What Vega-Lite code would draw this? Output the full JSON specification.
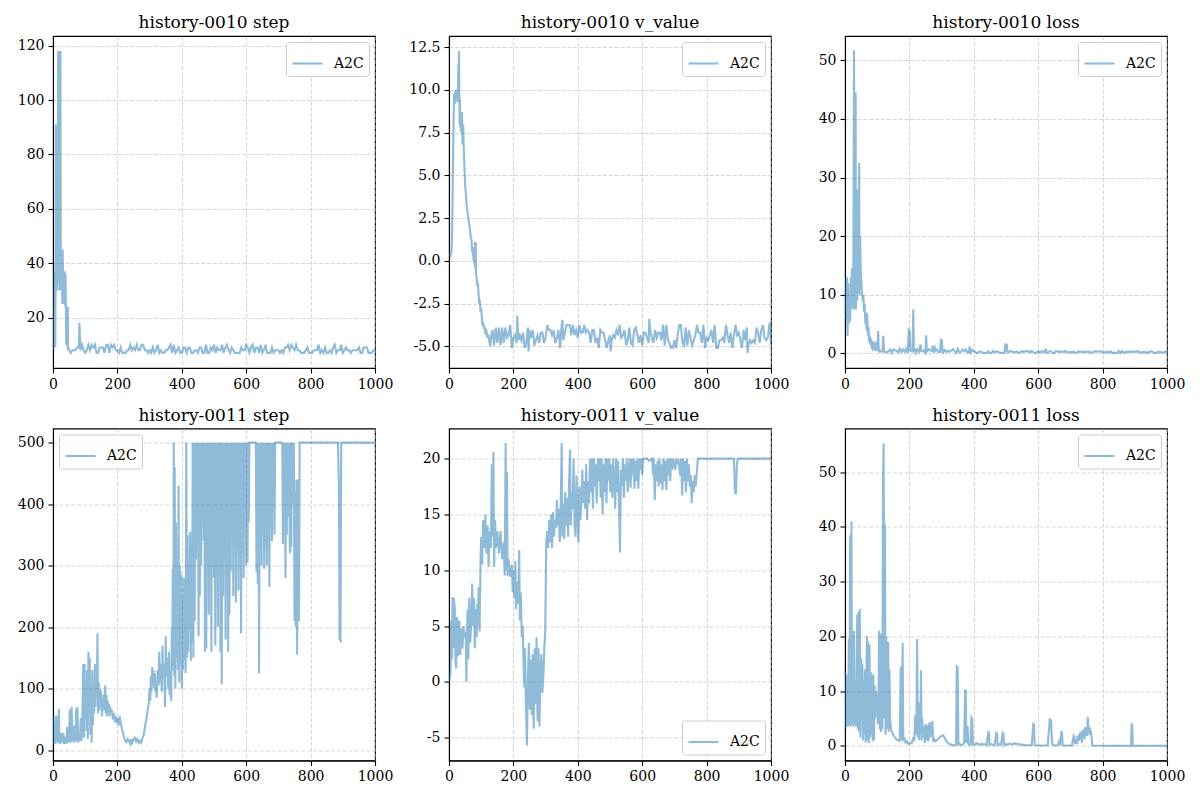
{
"$schema": "https://vega.github.io/schema/vega-lite/v6.json",
"padding": {"left": 10, "top": 13, "right": 5, "bottom": 5},
"columns": 3,
"bounds": "flush",
"spacing": {"row": 60.5, "column": 74},
"config": {
 "font": "DejaVu Serif",
 "view": {"stroke": "black", "strokeWidth": 1.1},
 "axis": {"title": null, "domainColor": "black", "domainWidth": 1.1, "tickColor": "black", "tickWidth": 1.1, "tickSize": 5, "labelPadding": 4, "labelFont": "DejaVu Serif", "labelFontSize": 14, "labelColor": "black", "grid": true, "gridColor": "#b0b0b0", "gridOpacity": 0.5, "gridDash": [4.1, 1.8], "gridWidth": 1.1, "labelFlush": false, "labelOverlap": false, "labelExpr": "replace(datum.label, '\u2212', '-')"},
 "axisY": {"minExtent": 42},
 "axisX": {"minExtent": 24, "format": "d"},
 "title": {"font": "DejaVu Serif", "fontSize": 17, "fontWeight": "normal", "color": "black", "offset": 4},
 "legend": {"title": null, "labelFont": "DejaVu Serif", "labelFontSize": 14, "labelColor": "black", "symbolType": "stroke", "symbolSize": 900, "symbolStrokeWidth": 2.1, "symbolOpacity": 0.5, "labelOffset": 10, "padding": 5, "cornerRadius": 3, "strokeColor": "#cccccc", "fillColor": "rgba(255,255,255,0.8)", "offset": 6}
},
"datasets": {
"a": [{"x":0,"y":10},{"x":1,"y":8},{"x":2,"y":23},{"x":3,"y":9},{"x":4,"y":18},{"x":5,"y":37},{"x":6,"y":12},{"x":7,"y":9},{"x":8,"y":37},{"x":9,"y":91},{"x":10,"y":35},{"x":11,"y":91},{"x":12,"y":40},{"x":13,"y":91},{"x":14,"y":30},{"x":15,"y":35},{"x":16,"y":118},{"x":17,"y":40},{"x":18,"y":118},{"x":19,"y":34},{"x":20,"y":118},{"x":21,"y":45},{"x":22,"y":30},{"x":23,"y":118},{"x":24,"y":50},{"x":25,"y":35},{"x":26,"y":45},{"x":27,"y":30},{"x":28,"y":45},{"x":29,"y":25},{"x":30,"y":45},{"x":31,"y":37},{"x":32,"y":26},{"x":33,"y":37},{"x":34,"y":35},{"x":35,"y":25},{"x":36,"y":37},{"x":37,"y":35},{"x":38,"y":24},{"x":39,"y":36},{"x":40,"y":24},{"x":41,"y":10},{"x":42,"y":24},{"x":43,"y":20},{"x":44,"y":24},{"x":45,"y":9},{"x":46,"y":24},{"x":47,"y":8},{"x":48,"y":9},
{"x":50,"y":8},{"x":55,"y":7},{"x":60,"y":8},{"x":65,"y":8},{"x":70,"y":8},{"x":75,"y":9},{"x":80,"y":9},{"x":82,"y":18},{"x":85,"y":8},{"x":90,"y":10},{"x":95,"y":8},
{"x":100,"y":7},{"x":105,"y":8},{"x":110,"y":10},{"x":115,"y":8},{"x":120,"y":10},{"x":125,"y":9},{"x":130,"y":10},{"x":135,"y":7},{"x":140,"y":7},{"x":145,"y":9},
{"x":150,"y":9},{"x":155,"y":9},{"x":160,"y":7},{"x":165,"y":10},{"x":170,"y":10},{"x":175,"y":7},{"x":180,"y":10},{"x":185,"y":9},{"x":190,"y":10},{"x":195,"y":8},
{"x":200,"y":8},{"x":205,"y":7},{"x":210,"y":9},{"x":215,"y":7},{"x":220,"y":7},{"x":225,"y":7},{"x":230,"y":8},{"x":235,"y":8},{"x":240,"y":10},{"x":245,"y":8},
{"x":250,"y":9},{"x":255,"y":8},{"x":260,"y":10},{"x":265,"y":8},{"x":270,"y":8},{"x":275,"y":10},{"x":280,"y":10},{"x":285,"y":8},{"x":290,"y":8},{"x":295,"y":7},
{"x":300,"y":8},{"x":305,"y":7},{"x":310,"y":9},{"x":315,"y":7},{"x":320,"y":8},{"x":325,"y":10},{"x":330,"y":7},{"x":335,"y":8},{"x":340,"y":7},{"x":345,"y":7},
{"x":350,"y":8},{"x":355,"y":8},{"x":360,"y":9},{"x":365,"y":10},{"x":370,"y":7},{"x":375,"y":10},{"x":380,"y":7},{"x":385,"y":8},{"x":390,"y":9},{"x":395,"y":7},
{"x":400,"y":7},{"x":405,"y":9},{"x":410,"y":9},{"x":415,"y":7},{"x":420,"y":9},{"x":425,"y":9},{"x":430,"y":7},{"x":435,"y":7},{"x":440,"y":8},{"x":445,"y":8},
{"x":450,"y":7},{"x":455,"y":9},{"x":460,"y":9},{"x":465,"y":7},{"x":470,"y":7},{"x":475,"y":10},{"x":480,"y":7},{"x":485,"y":7},{"x":490,"y":9},{"x":495,"y":8},
{"x":500,"y":10},{"x":505,"y":7},{"x":510,"y":9},{"x":515,"y":8},{"x":520,"y":8},{"x":525,"y":10},{"x":530,"y":7},{"x":535,"y":9},{"x":540,"y":10},{"x":545,"y":8},
{"x":550,"y":7},{"x":555,"y":9},{"x":560,"y":8},{"x":565,"y":7},{"x":570,"y":7},{"x":575,"y":7},{"x":580,"y":7},{"x":585,"y":9},{"x":590,"y":8},{"x":595,"y":8},
{"x":600,"y":10},{"x":605,"y":9},{"x":610,"y":7},{"x":615,"y":9},{"x":620,"y":10},{"x":625,"y":7},{"x":630,"y":9},{"x":635,"y":9},{"x":640,"y":7},{"x":645,"y":10},
{"x":650,"y":7},{"x":655,"y":8},{"x":660,"y":10},{"x":665,"y":7},{"x":670,"y":7},{"x":675,"y":7},{"x":680,"y":9},{"x":685,"y":7},{"x":690,"y":8},{"x":695,"y":8},
{"x":700,"y":8},{"x":705,"y":7},{"x":710,"y":8},{"x":715,"y":7},{"x":720,"y":9},{"x":725,"y":9},{"x":730,"y":10},{"x":735,"y":8},{"x":740,"y":10},{"x":745,"y":9},
{"x":750,"y":8},{"x":755,"y":10},{"x":760,"y":8},{"x":765,"y":8},{"x":770,"y":7},{"x":775,"y":7},{"x":780,"y":7},{"x":785,"y":8},{"x":790,"y":9},{"x":795,"y":7},
{"x":800,"y":7},{"x":805,"y":7},{"x":810,"y":8},{"x":815,"y":8},{"x":820,"y":8},{"x":825,"y":10},{"x":830,"y":7},{"x":835,"y":8},{"x":840,"y":7},{"x":845,"y":9},
{"x":850,"y":7},{"x":855,"y":7},{"x":860,"y":8},{"x":865,"y":7},{"x":870,"y":9},{"x":875,"y":10},{"x":880,"y":7},{"x":885,"y":8},{"x":890,"y":8},{"x":895,"y":10},
{"x":900,"y":7},{"x":905,"y":8},{"x":910,"y":9},{"x":915,"y":8},{"x":920,"y":8},{"x":925,"y":7},{"x":930,"y":8},{"x":935,"y":8},{"x":940,"y":8},{"x":945,"y":8},
{"x":950,"y":9},{"x":955,"y":7},{"x":960,"y":7},{"x":965,"y":9},{"x":970,"y":9},{"x":975,"y":9},{"x":980,"y":7},{"x":985,"y":7},{"x":990,"y":7},{"x":995,"y":8},{"x":1000,"y":8}],
"b": [{"x":0,"y":0.3},{"x":2,"y":0.5},{"x":4,"y":0.3},{"x":6,"y":0.4},{"x":8,"y":0.6},{"x":10,"y":2},{"x":12,"y":5},{"x":14,"y":8},{"x":16,"y":9.8},{"x":18,"y":9.2},{"x":20,"y":10},{"x":22,"y":9.5},{"x":24,"y":9.8},{"x":26,"y":9.3},{"x":28,"y":10.3},{"x":29,"y":11.5},{"x":30,"y":9.5},{"x":31,"y":12.3},{"x":32,"y":10},{"x":33,"y":8},{"x":34,"y":9.5},{"x":35,"y":7.8},{"x":36,"y":8.5},{"x":38,"y":7.5},{"x":40,"y":8.7},{"x":42,"y":6.8},{"x":44,"y":8},{"x":46,"y":6.5},{"x":48,"y":5.5},{"x":50,"y":4.5},{"x":52,"y":4},{"x":55,"y":3.2},{"x":58,"y":2.8},{"x":61,"y":2.3},{"x":64,"y":2},{"x":67,"y":1.5},{"x":70,"y":1.2},{"x":72,"y":0.5},{"x":74,"y":0.8},{"x":76,"y":0},{"x":78,"y":0.5},{"x":80,"y":-0.3},{"x":81,"y":1.1},{"x":82,"y":-0.5},{"x":83,"y":1.1},{"x":84,"y":-0.8},{"x":86,"y":-1},{"x":88,"y":-1.5},{"x":90,"y":-1.3},{"x":92,"y":-2},{"x":94,"y":-2.5},{"x":96,"y":-2.3},{"x":98,"y":-3},{"x":100,"y":-2.8},{"x":102,"y":-3.3},{"x":104,"y":-3.8},{"x":106,"y":-3.6},{"x":108,"y":-4},{"x":110,"y":-3.8},{"x":113,"y":-4.2},{"x":116,"y":-4.1},{"x":119,"y":-4.5},{"x":122,"y":-4.3},{"x":125,"y":-4.7},{"x":128,"y":-5},{"x":131,"y":-4.4},
{"x":135,"y":-4.05},{"x":140,"y":-4.95},{"x":145,"y":-3.9},{"x":150,"y":-4.8},{"x":155,"y":-3.9},{"x":160,"y":-4.95},{"x":165,"y":-3.9},{"x":170,"y":-4.8},{"x":175,"y":-3.9},{"x":180,"y":-4.5},
{"x":185,"y":-4.35},{"x":190,"y":-3.75},{"x":195,"y":-5.1},{"x":200,"y":-4.5},{"x":205,"y":-4.35},{"x":210,"y":-4.8},{"x":212,"y":-3.2},{"x":215,"y":-4.65},{"x":220,"y":-4.35},{"x":225,"y":-4.65},{"x":230,"y":-4.2},
{"x":235,"y":-5.1},{"x":240,"y":-4.8},{"x":245,"y":-3.9},{"x":247,"y":-5.3},{"x":250,"y":-4.05},{"x":255,"y":-4.5},{"x":260,"y":-4.05},{"x":265,"y":-4.95},{"x":270,"y":-4.65},{"x":275,"y":-4.35},{"x":280,"y":-4.8},
{"x":285,"y":-4.2},{"x":290,"y":-4.2},{"x":295,"y":-4.8},{"x":300,"y":-4.5},{"x":305,"y":-3.75},{"x":310,"y":-4.05},{"x":315,"y":-4.05},{"x":320,"y":-4.35},{"x":325,"y":-4.05},{"x":330,"y":-4.8},
{"x":335,"y":-4.5},{"x":340,"y":-4.05},{"x":345,"y":-5.1},{"x":350,"y":-3.75},{"x":352,"y":-3.45},{"x":355,"y":-4.65},{"x":360,"y":-4.2},{"x":365,"y":-3.75},{"x":370,"y":-3.75},{"x":375,"y":-3.75},{"x":380,"y":-4.35},
{"x":385,"y":-3.75},{"x":390,"y":-4.35},{"x":395,"y":-4.05},{"x":400,"y":-4.5},{"x":405,"y":-3.75},{"x":410,"y":-4.2},{"x":415,"y":-4.2},{"x":420,"y":-3.75},{"x":425,"y":-4.2},{"x":430,"y":-4.05},
{"x":435,"y":-4.2},{"x":440,"y":-4.8},{"x":445,"y":-4.05},{"x":450,"y":-4.05},{"x":455,"y":-4.8},{"x":460,"y":-4.5},{"x":465,"y":-5.1},{"x":470,"y":-4.05},{"x":475,"y":-4.2},{"x":480,"y":-4.2},
{"x":485,"y":-4.65},{"x":490,"y":-5.1},{"x":495,"y":-4.65},{"x":500,"y":-4.35},{"x":502,"y":-5.3},{"x":505,"y":-4.65},{"x":510,"y":-4.35},{"x":515,"y":-4.5},{"x":520,"y":-4.05},{"x":525,"y":-4.35},{"x":530,"y":-3.75},
{"x":535,"y":-4.5},{"x":540,"y":-4.35},{"x":545,"y":-4.05},{"x":550,"y":-4.95},{"x":555,"y":-4.65},{"x":560,"y":-3.9},{"x":565,"y":-4.8},{"x":570,"y":-4.95},{"x":575,"y":-4.05},{"x":580,"y":-3.9},
{"x":585,"y":-4.35},{"x":590,"y":-4.8},{"x":595,"y":-4.35},{"x":600,"y":-4.95},{"x":605,"y":-4.2},{"x":610,"y":-4.2},{"x":615,"y":-4.5},{"x":620,"y":-4.8},{"x":622,"y":-3.4},{"x":625,"y":-4.05},{"x":630,"y":-4.5},
{"x":635,"y":-4.8},{"x":640,"y":-4.05},{"x":645,"y":-4.5},{"x":650,"y":-4.2},{"x":655,"y":-4.2},{"x":660,"y":-4.65},{"x":665,"y":-3.75},{"x":670,"y":-4.95},{"x":675,"y":-3.75},{"x":680,"y":-4.65},
{"x":685,"y":-4.8},{"x":690,"y":-5.1},{"x":695,"y":-5.1},{"x":700,"y":-4.65},{"x":705,"y":-5.1},{"x":710,"y":-4.35},{"x":715,"y":-3.75},{"x":720,"y":-3.75},{"x":725,"y":-4.8},{"x":730,"y":-4.95},
{"x":735,"y":-3.9},{"x":740,"y":-4.95},{"x":745,"y":-4.05},{"x":750,"y":-4.5},{"x":755,"y":-4.95},{"x":760,"y":-4.65},{"x":765,"y":-4.35},{"x":770,"y":-3.75},{"x":775,"y":-4.2},{"x":780,"y":-4.2},
{"x":785,"y":-4.8},{"x":790,"y":-3.75},{"x":795,"y":-5.1},{"x":800,"y":-4.5},{"x":805,"y":-4.65},{"x":810,"y":-4.35},{"x":815,"y":-4.05},{"x":820,"y":-4.8},{"x":825,"y":-3.75},{"x":830,"y":-5.1},
{"x":835,"y":-5.1},{"x":840,"y":-4.65},{"x":845,"y":-4.65},{"x":850,"y":-4.5},{"x":855,"y":-4.8},{"x":860,"y":-3.75},{"x":865,"y":-4.35},{"x":870,"y":-4.8},{"x":875,"y":-4.2},{"x":880,"y":-5.1},
{"x":885,"y":-4.35},{"x":890,"y":-3.75},{"x":895,"y":-4.35},{"x":900,"y":-4.2},{"x":905,"y":-4.65},{"x":910,"y":-5.1},{"x":915,"y":-4.05},{"x":920,"y":-4.65},{"x":925,"y":-3.9},{"x":927,"y":-5.4},{"x":930,"y":-4.95},
{"x":935,"y":-4.65},{"x":940,"y":-4.8},{"x":945,"y":-4.65},{"x":950,"y":-4.8},{"x":955,"y":-3.9},{"x":960,"y":-4.2},{"x":965,"y":-4.8},{"x":970,"y":-4.05},{"x":975,"y":-3.75},{"x":980,"y":-4.5},
{"x":985,"y":-4.65},{"x":990,"y":-4.5},{"x":995,"y":-3.75},{"x":997,"y":-3.6},{"x":1000,"y":-4.9}],
"c": [{"x":0,"y":8},{"x":2,"y":13},{"x":4,"y":6},{"x":6,"y":13},{"x":8,"y":3},{"x":10,"y":12},{"x":12,"y":5},{"x":14,"y":9},{"x":16,"y":5.5},{"x":18,"y":13},{"x":20,"y":8},{"x":22,"y":14.5},{"x":24,"y":7.5},{"x":26,"y":15},{"x":28,"y":51.7},{"x":29,"y":8},{"x":30,"y":30},{"x":31,"y":7.5},{"x":33,"y":44.5},{"x":34,"y":7.5},{"x":36,"y":20},{"x":38,"y":9},{"x":40,"y":28},{"x":42,"y":12},{"x":44,"y":32.5},{"x":45,"y":10},{"x":47,"y":20},{"x":49,"y":14},{"x":51,"y":12},{"x":53,"y":10},{"x":55,"y":9},{"x":57,"y":10},{"x":59,"y":7},{"x":61,"y":8.5},{"x":63,"y":5},{"x":65,"y":7},{"x":67,"y":4},{"x":69,"y":6.8},{"x":71,"y":3},{"x":73,"y":4.5},{"x":75,"y":2},{"x":77,"y":3},{"x":79,"y":1.5},{"x":81,"y":2.5},{"x":83,"y":1},{"x":85,"y":0.8},{"x":87,"y":2},{"x":89,"y":0.6},{"x":91,"y":1.5},{"x":93,"y":0.5},{"x":95,"y":2},{"x":97,"y":0.4},{"x":99,"y":2},{"x":101,"y":0.4},{"x":103,"y":3.8},{"x":105,"y":0.4},{"x":107,"y":0.3},{"x":110,"y":0.4},{"x":113,"y":0.3},{"x":116,"y":0.5},{"x":119,"y":3},{"x":121,"y":0.3},
{"x":125,"y":0.24},{"x":130,"y":0.17},{"x":135,"y":0.38},{"x":140,"y":0.66},{"x":145,"y":0.1},{"x":150,"y":0.66},{"x":155,"y":0.52},{"x":160,"y":0.45},{"x":165,"y":0.17},
{"x":170,"y":0.81},{"x":175,"y":0.24},{"x":180,"y":0.66},{"x":185,"y":0.24},{"x":190,"y":0.81},{"x":195,"y":0.1},{"x":198,"y":4},{"x":201,"y":3.8},{"x":203,"y":0.3},{"x":205,"y":0.52},{"x":210,"y":0.38},{"x":212,"y":7.5},{"x":214,"y":0.4},{"x":218,"y":0.59},
{"x":220,"y":0.1},{"x":225,"y":0.73},{"x":230,"y":0.31},{"x":235,"y":1.5},{"x":237,"y":0.38},{"x":240,"y":0.38},{"x":245,"y":0.52},{"x":250,"y":0.1},{"x":252,"y":3.1},{"x":254,"y":0.3},{"x":260,"y":0.73},{"x":265,"y":0.45},
{"x":270,"y":0.45},{"x":272,"y":1.3},{"x":275,"y":0.1},{"x":278,"y":1.3},{"x":280,"y":0.45},{"x":285,"y":0.66},{"x":290,"y":0.24},{"x":295,"y":0.24},{"x":298,"y":2.3},{"x":301,"y":2.2},{"x":303,"y":0.31},{"x":305,"y":0.17},{"x":310,"y":0.59},{"x":315,"y":0.24},
{"x":320,"y":0.45},{"x":325,"y":0.31},{"x":330,"y":0.45},{"x":335,"y":0.73},{"x":340,"y":0.38},{"x":345,"y":0.1},{"x":350,"y":0.8},{"x":355,"y":0.17},{"x":360,"y":0.24},{"x":365,"y":0.66},
{"x":370,"y":0.38},{"x":375,"y":0.66},{"x":380,"y":0.17},{"x":385,"y":0.17},{"x":387,"y":1.2},{"x":390,"y":0.17},{"x":395,"y":0.59},{"x":400,"y":0.38},
{"x":405,"y":0.25},{"x":410,"y":0.05},{"x":415,"y":0.13},{"x":420,"y":0.37},{"x":425,"y":0.21},{"x":430,"y":0.09},{"x":435,"y":0.05},{"x":440,"y":0.13},{"x":445,"y":0.33},{"x":450,"y":0.05},
{"x":455,"y":0.09},{"x":460,"y":0.41},{"x":465,"y":0.17},{"x":470,"y":0.37},{"x":475,"y":0.25},{"x":480,"y":0.13},{"x":485,"y":0.09},{"x":490,"y":0.09},{"x":495,"y":0.05},{"x":498,"y":1.7},{"x":500,"y":0.25},{"x":502,"y":1.6},
{"x":505,"y":0.25},{"x":510,"y":0.25},{"x":515,"y":0.41},{"x":520,"y":0.29},{"x":525,"y":0.21},{"x":530,"y":0.21},{"x":535,"y":0.29},{"x":540,"y":0.13},{"x":545,"y":0.13},{"x":550,"y":0.41},
{"x":555,"y":0.21},{"x":560,"y":0.37},{"x":565,"y":0.41},{"x":570,"y":0.25},{"x":575,"y":0.21},{"x":580,"y":0.41},{"x":585,"y":0.17},{"x":590,"y":0.05},{"x":595,"y":0.17},{"x":600,"y":0.37},
{"x":605,"y":0.09},{"x":610,"y":0.41},{"x":615,"y":0.29},{"x":620,"y":0.21},{"x":623,"y":0.8},{"x":625,"y":0.21},{"x":630,"y":0.13},{"x":635,"y":0.37},{"x":640,"y":0.37},{"x":645,"y":0.09},{"x":650,"y":0.05},
{"x":655,"y":0.41},{"x":660,"y":0.33},{"x":665,"y":0.25},{"x":670,"y":0.29},{"x":675,"y":0.29},{"x":680,"y":0.25},{"x":685,"y":0.41},{"x":690,"y":0.17},{"x":695,"y":0.17},{"x":700,"y":0.21},
{"x":705,"y":0.21},{"x":710,"y":0.29},{"x":715,"y":0.09},{"x":720,"y":0.13},{"x":725,"y":0.37},{"x":730,"y":0.21},{"x":735,"y":0.33},{"x":740,"y":0.25},{"x":745,"y":0.29},{"x":750,"y":0.21},
{"x":755,"y":0.37},{"x":760,"y":0.13},{"x":765,"y":0.17},{"x":770,"y":0.17},{"x":775,"y":0.33},{"x":780,"y":0.37},{"x":785,"y":0.29},{"x":790,"y":0.33},{"x":795,"y":0.37},{"x":800,"y":0.17},
{"x":805,"y":0.09},{"x":810,"y":0.29},{"x":815,"y":0.25},{"x":820,"y":0.13},{"x":825,"y":0.33},{"x":830,"y":0.09},{"x":835,"y":0.13},{"x":840,"y":0.05},{"x":845,"y":0.09},{"x":850,"y":0.41},
{"x":855,"y":0.05},{"x":860,"y":0.41},{"x":865,"y":0.09},{"x":870,"y":0.21},{"x":875,"y":0.25},{"x":880,"y":0.29},{"x":885,"y":0.21},{"x":890,"y":0.37},{"x":895,"y":0.25},{"x":900,"y":0.29},
{"x":905,"y":0.29},{"x":910,"y":0.41},{"x":915,"y":0.13},{"x":920,"y":0.17},{"x":925,"y":0.21},{"x":930,"y":0.29},{"x":935,"y":0.05},{"x":940,"y":0.17},{"x":945,"y":0.21},{"x":950,"y":0.37},
{"x":955,"y":0.29},{"x":960,"y":0.09},{"x":965,"y":0.05},{"x":970,"y":0.21},{"x":975,"y":0.25},{"x":980,"y":0.21},{"x":985,"y":0.17},{"x":990,"y":0.13},{"x":995,"y":0.29},{"x":1000,"y":0.29}],
"d": [{"x":0,"y":10},{"x":2,"y":55},{"x":4,"y":12},{"x":6,"y":30},{"x":8,"y":10},{"x":10,"y":56},{"x":12,"y":15},{"x":14,"y":25},{"x":16,"y":12},{"x":18,"y":67},{"x":20,"y":20},{"x":22,"y":10},{"x":24,"y":28},{"x":26,"y":12},{"x":28,"y":25},{"x":30,"y":15},{"x":32,"y":28},{"x":34,"y":10},{"x":36,"y":22},{"x":38,"y":12},{"x":40,"y":20},{"x":42,"y":10},{"x":44,"y":38},{"x":46,"y":12},{"x":48,"y":30},{"x":50,"y":15},{"x":52,"y":66},{"x":54,"y":12},{"x":56,"y":30},{"x":58,"y":70},{"x":60,"y":14},{"x":62,"y":25},{"x":64,"y":40},{"x":66,"y":12},{"x":68,"y":20},{"x":70,"y":14},{"x":72,"y":68},{"x":74,"y":15},{"x":76,"y":70},{"x":78,"y":12},{"x":80,"y":25},{"x":82,"y":15},{"x":84,"y":20},{"x":86,"y":52},{"x":88,"y":15},{"x":90,"y":30},
{"x":92,"y":80},{"x":94,"y":140},{"x":96,"y":20},{"x":98,"y":140},{"x":100,"y":50},{"x":102,"y":110},{"x":104,"y":30},{"x":106,"y":130},{"x":108,"y":18},{"x":110,"y":160},{"x":112,"y":60},{"x":114,"y":150},{"x":116,"y":25},{"x":118,"y":100},{"x":120,"y":12},{"x":122,"y":130},{"x":124,"y":40},{"x":126,"y":100},{"x":128,"y":60},{"x":130,"y":140},{"x":132,"y":70},{"x":134,"y":120},{"x":136,"y":90},{"x":138,"y":190},{"x":140,"y":60},{"x":142,"y":110},{"x":144,"y":65},{"x":146,"y":100},{"x":148,"y":70},{"x":150,"y":95},
{"x":152,"y":55},{"x":154,"y":80},{"x":156,"y":70},{"x":158,"y":90},{"x":160,"y":65},{"x":162,"y":105},{"x":164,"y":60},{"x":166,"y":90},{"x":168,"y":55},{"x":170,"y":80},{"x":172,"y":65},{"x":174,"y":75},{"x":176,"y":55},{"x":178,"y":70},{"x":180,"y":60},{"x":183,"y":65},{"x":186,"y":50},{"x":189,"y":60},{"x":192,"y":45},{"x":195,"y":55},{"x":198,"y":48},{"x":201,"y":52},{"x":204,"y":40},{"x":207,"y":55},{"x":210,"y":45},{"x":213,"y":38},{"x":216,"y":30},{"x":219,"y":25},{"x":222,"y":18},{"x":225,"y":15},{"x":228,"y":13},{"x":232,"y":18},{"x":236,"y":15},{"x":240,"y":10},{"x":243,"y":18},{"x":246,"y":12},{"x":250,"y":17},{"x":254,"y":20},{"x":258,"y":14},{"x":262,"y":18},{"x":266,"y":12},{"x":270,"y":15},{"x":274,"y":12},{"x":278,"y":20},{"x":282,"y":25},{"x":286,"y":40},{"x":290,"y":50},{"x":294,"y":65},{"x":297,"y":75},
{"x":300,"y":100},{"x":302,"y":80},{"x":304,"y":120},{"x":306,"y":95},{"x":308,"y":135},{"x":310,"y":105},{"x":312,"y":130},{"x":314,"y":100},{"x":316,"y":125},{"x":318,"y":95},{"x":320,"y":110},{"x":322,"y":85},{"x":325,"y":130},{"x":328,"y":105},{"x":330,"y":160},{"x":332,"y":110},{"x":335,"y":140},{"x":338,"y":95},{"x":340,"y":170},{"x":342,"y":115},{"x":345,"y":140},{"x":348,"y":70},{"x":350,"y":185},{"x":352,"y":120},{"x":355,"y":150},{"x":358,"y":100},{"x":360,"y":160},{"x":362,"y":90},{"x":365,"y":130},{"x":367,"y":80},{"x":369,"y":200},{"x":371,"y":180},{"x":372,"y":295},{"x":374,"y":130},{"x":375,"y":500},{"x":377,"y":120},{"x":378,"y":460},{"x":380,"y":100},{"x":382,"y":370},{"x":384,"y":150},{"x":386,"y":250},{"x":388,"y":130},{"x":390,"y":430},{"x":392,"y":110},{"x":394,"y":300},{"x":396,"y":140},{"x":398,"y":285},{"x":400,"y":100},{"x":402,"y":250},{"x":404,"y":130},{"x":406,"y":280},{"x":408,"y":145},{"x":410,"y":270},{"x":412,"y":125},{"x":414,"y":500},{"x":416,"y":150},{"x":418,"y":350},{"x":420,"y":160},{"x":422,"y":300},{"x":424,"y":200},{"x":426,"y":355},{"x":428,"y":145},{"x":430,"y":330},{"x":432,"y":175},{"x":434,"y":500},{"x":436,"y":150},{"x":438,"y":500},{"x":440,"y":210},{"x":442,"y":500},{"x":444,"y":310},{"x":446,"y":500},{"x":448,"y":400},{"x":450,"y":500},{"x":452,"y":185},{"x":454,"y":500},{"x":456,"y":250},{"x":458,"y":500},{"x":460,"y":300},{"x":462,"y":500},{"x":464,"y":420},{"x":466,"y":500},{"x":468,"y":340},{"x":470,"y":500},{"x":472,"y":160},{"x":474,"y":500},{"x":476,"y":165},{"x":478,"y":500},{"x":480,"y":370},{"x":482,"y":500},{"x":484,"y":220},{"x":486,"y":500},{"x":488,"y":300},{"x":490,"y":500},{"x":492,"y":160},{"x":494,"y":500},{"x":496,"y":400},{"x":498,"y":500},{"x":500,"y":280},{"x":502,"y":500},{"x":504,"y":170},{"x":506,"y":500},{"x":508,"y":370},{"x":510,"y":500},{"x":512,"y":200},{"x":514,"y":500},{"x":516,"y":440},{"x":518,"y":500},{"x":520,"y":160},{"x":522,"y":500},{"x":524,"y":107},{"x":526,"y":500},{"x":528,"y":250},{"x":530,"y":500},{"x":532,"y":350},{"x":534,"y":500},{"x":536,"y":180},{"x":538,"y":500},{"x":540,"y":300},{"x":542,"y":500},{"x":544,"y":160},{"x":546,"y":500},{"x":548,"y":220},{"x":550,"y":500},{"x":552,"y":290},{"x":554,"y":500},{"x":556,"y":420},{"x":558,"y":500},{"x":560,"y":250},{"x":562,"y":500},{"x":564,"y":450},{"x":566,"y":500},{"x":568,"y":240},{"x":570,"y":500},{"x":572,"y":330},{"x":574,"y":500},{"x":576,"y":260},{"x":578,"y":500},{"x":580,"y":400},{"x":582,"y":500},{"x":584,"y":190},{"x":586,"y":500},{"x":588,"y":360},{"x":590,"y":500},{"x":592,"y":280},{"x":594,"y":500},{"x":596,"y":430},{"x":598,"y":500},{"x":600,"y":300},{"x":602,"y":500},{"x":604,"y":305},{"x":606,"y":500},{"x":608,"y":370},{"x":610,"y":500},{"x":620,"y":500},{"x":630,"y":500},{"x":632,"y":290},{"x":634,"y":500},{"x":636,"y":270},{"x":638,"y":500},{"x":640,"y":125},{"x":642,"y":500},{"x":644,"y":350},{"x":646,"y":500},{"x":648,"y":300},{"x":650,"y":500},{"x":652,"y":400},{"x":654,"y":500},{"x":656,"y":295},{"x":658,"y":500},{"x":660,"y":330},{"x":662,"y":500},{"x":664,"y":300},{"x":666,"y":500},{"x":668,"y":420},{"x":670,"y":500},{"x":672,"y":265},{"x":674,"y":500},{"x":676,"y":380},{"x":678,"y":500},{"x":680,"y":340},{"x":682,"y":500},{"x":684,"y":420},{"x":686,"y":500},{"x":688,"y":350},{"x":690,"y":500},{"x":700,"y":500},{"x":712,"y":500},{"x":714,"y":335},{"x":716,"y":500},{"x":718,"y":420},{"x":720,"y":500},{"x":722,"y":280},{"x":724,"y":500},{"x":726,"y":350},{"x":728,"y":500},{"x":730,"y":380},{"x":732,"y":500},{"x":736,"y":320},{"x":738,"y":500},{"x":740,"y":330},{"x":742,"y":500},{"x":746,"y":400},{"x":748,"y":500},{"x":750,"y":210},{"x":752,"y":420},{"x":754,"y":200},{"x":756,"y":440},{"x":758,"y":155},{"x":760,"y":300},{"x":762,"y":440},{"x":764,"y":210},{"x":766,"y":500},{"x":800,"y":500},{"x":885,"y":500},{"x":888,"y":430},{"x":890,"y":180},{"x":893,"y":178},{"x":895,"y":500},{"x":1000,"y":500}],
"e": [{"x":0,"y":0},{"x":3,"y":0.5},{"x":5,"y":1},{"x":7,"y":5.5},{"x":9,"y":2},{"x":11,"y":7.6},{"x":13,"y":3},{"x":15,"y":7.5},{"x":18,"y":6.5},{"x":20,"y":1.8},{"x":22,"y":1.2},{"x":25,"y":5.8},{"x":28,"y":2.3},{"x":32,"y":5.5},{"x":35,"y":2.4},{"x":38,"y":4.8},{"x":42,"y":3},{"x":45,"y":5},{"x":48,"y":4},{"x":52,"y":4.5},{"x":54,"y":0},{"x":56,"y":4.5},{"x":58,"y":6.5},{"x":60,"y":2},{"x":63,"y":7.5},{"x":66,"y":3.5},{"x":70,"y":6},{"x":72,"y":8.8},{"x":75,"y":5},{"x":78,"y":7.5},{"x":80,"y":3},{"x":83,"y":6.5},{"x":86,"y":4},{"x":88,"y":7},{"x":90,"y":5},{"x":92,"y":8.5},{"x":95,"y":4.5},{"x":98,"y":11},{"x":100,"y":13},{"x":103,"y":10.5},{"x":106,"y":14.5},{"x":110,"y":12},{"x":113,"y":15},{"x":116,"y":11.5},{"x":120,"y":14},{"x":123,"y":10.3},{"x":126,"y":13.5},{"x":130,"y":12},{"x":133,"y":19.5},{"x":135,"y":13},{"x":138,"y":20.6},{"x":140,"y":10.3},{"x":143,"y":14.5},{"x":146,"y":12},{"x":150,"y":13.5},{"x":155,"y":11.5},{"x":160,"y":13.5},{"x":165,"y":11},{"x":170,"y":12.5},{"x":173,"y":9.5},{"x":176,"y":21.4},{"x":178,"y":10},{"x":180,"y":18.8},{"x":182,"y":9.5},{"x":185,"y":11},{"x":190,"y":9.4},{"x":195,"y":10.5},{"x":198,"y":8},{"x":200,"y":10},{"x":203,"y":7.5},{"x":206,"y":10.8},{"x":208,"y":6.5},{"x":212,"y":9},{"x":215,"y":7},{"x":218,"y":11.8},{"x":220,"y":5.5},{"x":223,"y":8},{"x":226,"y":4},{"x":229,"y":5},{"x":232,"y":1},{"x":234,"y":-0.5},{"x":236,"y":3},{"x":239,"y":-2},{"x":242,"y":-5.7},{"x":245,"y":0},{"x":248,"y":3.5},{"x":251,"y":-2.5},{"x":254,"y":2},{"x":257,"y":-3},{"x":260,"y":2.5},{"x":263,"y":-4.2},{"x":266,"y":3},{"x":269,"y":-2},{"x":272,"y":4},{"x":275,"y":-3.5},{"x":278,"y":3},{"x":281,"y":-4},{"x":284,"y":1},{"x":287,"y":2.5},{"x":290,"y":-1},{"x":293,"y":0.5},{"x":296,"y":3},{"x":299,"y":4.5},{"x":302,"y":12.5},{"x":305,"y":13.5},{"x":308,"y":12},{"x":311,"y":14.5},{"x":314,"y":12.5},{"x":317,"y":15},{"x":320,"y":12},{"x":323,"y":15.2},{"x":326,"y":13},{"x":329,"y":14.5},{"x":332,"y":13.8},{"x":335,"y":16.3},{"x":338,"y":14},{"x":341,"y":15.5},{"x":344,"y":12.5},{"x":347,"y":16},{"x":350,"y":21.4},{"x":352,"y":13},{"x":355,"y":16},{"x":358,"y":12.8},{"x":361,"y":17},{"x":364,"y":14},{"x":367,"y":16.5},{"x":370,"y":13},{"x":373,"y":18},{"x":376,"y":20.8},{"x":378,"y":14},{"x":381,"y":17},{"x":384,"y":15.5},{"x":387,"y":20},{"x":390,"y":14},{"x":393,"y":13},{"x":396,"y":18.5},{"x":399,"y":15},{"x":402,"y":12.5},{"x":405,"y":17.5},{"x":408,"y":14.5},{"x":411,"y":16},{"x":414,"y":19},{"x":417,"y":16},{"x":420,"y":18},{"x":423,"y":15.5},{"x":426,"y":19.5},{"x":429,"y":14.5},{"x":432,"y":18},{"x":435,"y":16},{"x":438,"y":20},{"x":441,"y":17},{"x":444,"y":20},{"x":447,"y":15.5},{"x":450,"y":20},{"x":453,"y":17.5},{"x":456,"y":19.5},{"x":459,"y":16},{"x":462,"y":20},{"x":465,"y":18},{"x":468,"y":20},{"x":471,"y":16.5},{"x":474,"y":20},{"x":477,"y":15},{"x":480,"y":19.5},{"x":483,"y":17},{"x":486,"y":20},{"x":489,"y":16},{"x":492,"y":20},{"x":495,"y":18},{"x":498,"y":20},{"x":501,"y":17},{"x":504,"y":19.5},{"x":507,"y":16.5},{"x":510,"y":20},{"x":513,"y":18},{"x":516,"y":15.5},{"x":519,"y":20},{"x":522,"y":17},{"x":525,"y":19.8},{"x":528,"y":15.8},{"x":531,"y":11.6},{"x":534,"y":19},{"x":537,"y":17.5},{"x":540,"y":20},{"x":543,"y":16.5},{"x":546,"y":19.5},{"x":549,"y":18},{"x":552,"y":20},{"x":555,"y":17},{"x":558,"y":19},{"x":561,"y":20},{"x":564,"y":17.4},{"x":567,"y":20},{"x":570,"y":18.5},{"x":573,"y":20},{"x":576,"y":17.3},{"x":579,"y":19.8},{"x":582,"y":18},{"x":585,"y":20},{"x":588,"y":17.3},{"x":591,"y":20},{"x":594,"y":19},{"x":597,"y":20},{"x":600,"y":18.5},{"x":603,"y":20},{"x":615,"y":20},{"x":621,"y":19.8},{"x":631,"y":20},{"x":634,"y":18.5},{"x":636,"y":20},{"x":639,"y":16.3},{"x":642,"y":19.5},{"x":645,"y":18},{"x":648,"y":19.8},{"x":651,"y":17.5},{"x":654,"y":20},{"x":657,"y":17.8},{"x":660,"y":19.5},{"x":663,"y":17.2},{"x":666,"y":20},{"x":669,"y":18},{"x":672,"y":19.8},{"x":675,"y":17.2},{"x":678,"y":20},{"x":681,"y":18.5},{"x":684,"y":20},{"x":687,"y":18},{"x":690,"y":20},{"x":693,"y":19},{"x":696,"y":20},{"x":703,"y":19},{"x":706,"y":20},{"x":709,"y":19.5},{"x":712,"y":20},{"x":718,"y":18.5},{"x":721,"y":20},{"x":724,"y":16.7},{"x":727,"y":20},{"x":730,"y":18},{"x":733,"y":19.8},{"x":736,"y":17},{"x":739,"y":20},{"x":742,"y":18},{"x":745,"y":19.5},{"x":748,"y":17.5},{"x":751,"y":18.5},{"x":754,"y":16},{"x":757,"y":18},{"x":760,"y":17},{"x":763,"y":18.5},{"x":766,"y":17.5},{"x":770,"y":19},{"x":773,"y":20},{"x":885,"y":20},{"x":888,"y":17},{"x":891,"y":16.8},{"x":894,"y":19.5},{"x":897,"y":20},{"x":1000,"y":20}],
"f": [{"x":0,"y":13.5},{"x":2,"y":3},{"x":4,"y":13},{"x":6,"y":3.5},{"x":8,"y":8},{"x":10,"y":3.5},{"x":12,"y":19.5},{"x":14,"y":3.8},{"x":16,"y":38.5},{"x":18,"y":3.5},{"x":20,"y":41},{"x":22,"y":4},{"x":24,"y":20},{"x":26,"y":3.5},{"x":28,"y":21},{"x":30,"y":4},{"x":32,"y":12},{"x":34,"y":3.5},{"x":36,"y":11},{"x":38,"y":24},{"x":40,"y":3},{"x":42,"y":24.5},{"x":44,"y":2.5},{"x":46,"y":25},{"x":48,"y":1.5},{"x":50,"y":16},{"x":52,"y":5},{"x":54,"y":15},{"x":56,"y":1},{"x":58,"y":12},{"x":60,"y":2},{"x":62,"y":14},{"x":64,"y":0.6},{"x":66,"y":10},{"x":68,"y":20},{"x":70,"y":1},{"x":72,"y":19},{"x":74,"y":0.5},{"x":76,"y":18.5},{"x":78,"y":1.5},{"x":80,"y":13.5},{"x":82,"y":2},{"x":84,"y":13},{"x":86,"y":0.8},{"x":88,"y":13},{"x":90,"y":1},{"x":92,"y":11},{"x":94,"y":5},{"x":96,"y":10},{"x":98,"y":6},{"x":100,"y":9.5},{"x":102,"y":4},{"x":104,"y":8},{"x":106,"y":21},{"x":108,"y":3},{"x":110,"y":20.5},{"x":112,"y":2.5},{"x":114,"y":11},{"x":116,"y":3},{"x":118,"y":48},{"x":120,"y":55.3},{"x":122,"y":5},{"x":124,"y":40.5},{"x":126,"y":2},{"x":128,"y":20},{"x":130,"y":3},{"x":132,"y":18.5},{"x":134,"y":19},{"x":136,"y":2.5},{"x":138,"y":14},{"x":140,"y":5},{"x":143,"y":3},{"x":146,"y":2.5},{"x":150,"y":2},{"x":155,"y":1.5},{"x":160,"y":1.2},{"x":165,"y":1},{"x":170,"y":0.9},{"x":173,"y":14},{"x":175,"y":14.5},{"x":177,"y":1},{"x":179,"y":18.8},{"x":181,"y":0.8},{"x":184,"y":1.5},{"x":188,"y":0.6},{"x":192,"y":0.8},{"x":196,"y":0.4},{"x":200,"y":0.3},{"x":204,"y":0.5},{"x":208,"y":0.6},{"x":212,"y":1.5},{"x":215,"y":0.8},{"x":218,"y":5.5},{"x":220,"y":2},{"x":222,"y":5},{"x":224,"y":19.5},{"x":226,"y":1.5},{"x":228,"y":8},{"x":230,"y":1},{"x":232,"y":4},{"x":234,"y":2},{"x":236,"y":13.8},{"x":238,"y":1},{"x":240,"y":5},{"x":242,"y":1.5},{"x":245,"y":3.5},{"x":248,"y":0.5},{"x":250,"y":4},{"x":253,"y":1},{"x":256,"y":3.8},{"x":259,"y":0.8},{"x":262,"y":4.3},{"x":265,"y":1.5},{"x":268,"y":3},{"x":271,"y":4.5},{"x":274,"y":1},{"x":277,"y":1.2},{"x":280,"y":0.8},{"x":285,"y":1},{"x":290,"y":1.3},{"x":295,"y":1.6},{"x":300,"y":1.8},{"x":305,"y":1.9},{"x":310,"y":1.4},{"x":315,"y":0.8},{"x":320,"y":0.5},{"x":325,"y":0.3},{"x":330,"y":0.2},{"x":335,"y":0.1},{"x":340,"y":0.1},{"x":345,"y":0.2},{"x":347,"y":14.5},{"x":350,"y":14.3},{"x":352,"y":0.3},{"x":355,"y":0.4},{"x":360,"y":0.1},{"x":365,"y":0.2},{"x":370,"y":0.4},{"x":373,"y":10.3},{"x":375,"y":10},{"x":377,"y":0.5},{"x":379,"y":3.5},{"x":381,"y":3.4},{"x":383,"y":0.3},{"x":386,"y":0.1},{"x":390,"y":0.4},{"x":393,"y":5.2},{"x":395,"y":5},{"x":397,"y":0.2},{"x":400,"y":0.3},{"x":405,"y":0.2},{"x":410,"y":0.5},{"x":415,"y":0.3},{"x":420,"y":0.1},{"x":425,"y":0.4},{"x":430,"y":0.2},{"x":435,"y":0.3},{"x":440,"y":0.1},{"x":445,"y":2.5},{"x":447,"y":2.4},{"x":449,"y":0.2},{"x":455,"y":0.3},{"x":460,"y":0.1},{"x":465,"y":0.2},{"x":470,"y":2.3},{"x":472,"y":2.2},{"x":474,"y":0.1},{"x":480,"y":0.3},{"x":485,"y":0.2},{"x":490,"y":2.4},{"x":492,"y":2.3},{"x":494,"y":0.1},{"x":500,"y":0.3},{"x":505,"y":0.2},{"x":510,"y":0.4},{"x":515,"y":0.3},{"x":520,"y":0.2},{"x":525,"y":0.5},{"x":530,"y":0.3},{"x":535,"y":0.4},{"x":540,"y":0.2},{"x":545,"y":0.3},{"x":550,"y":0.1},{"x":555,"y":0.2},{"x":560,"y":0.1},{"x":570,"y":0.1},{"x":580,"y":0.1},{"x":585,"y":4},{"x":587,"y":3.9},{"x":589,"y":0.1},{"x":595,"y":0.05},{"x":610,"y":0.05},{"x":630,"y":0.1},{"x":632,"y":2},{"x":634,"y":3},{"x":636,"y":5},{"x":638,"y":3.5},{"x":640,"y":4.8},{"x":642,"y":1.5},{"x":644,"y":0.2},{"x":650,"y":0.1},{"x":660,"y":0.05},{"x":665,"y":0.8},{"x":668,"y":0.1},{"x":672,"y":2.5},{"x":674,"y":2.4},{"x":676,"y":0.1},{"x":690,"y":0.05},{"x":705,"y":0.05},{"x":710,"y":1.8},{"x":712,"y":1.6},{"x":714,"y":0.5},{"x":716,"y":0.6},{"x":718,"y":1.2},{"x":720,"y":0.3},{"x":722,"y":1.8},{"x":724,"y":0.8},{"x":726,"y":2},{"x":728,"y":1},{"x":730,"y":2.4},{"x":732,"y":1.2},{"x":734,"y":2.6},{"x":736,"y":0.5},{"x":738,"y":2.8},{"x":740,"y":1.5},{"x":742,"y":3},{"x":744,"y":1.2},{"x":746,"y":3.4},{"x":748,"y":2},{"x":750,"y":3},{"x":752,"y":1.8},{"x":754,"y":5.3},{"x":756,"y":2.5},{"x":758,"y":3.5},{"x":760,"y":2},{"x":762,"y":2.8},{"x":764,"y":2.5},{"x":766,"y":1.5},{"x":768,"y":0.05},{"x":800,"y":0},{"x":888,"y":0},{"x":890,"y":3.9},{"x":892,"y":3.8},{"x":894,"y":0},{"x":1000,"y":0}]
},
"concat": [
{"title": {"text": "history-0010 step"}, "width": 322, "height": 332, "data": {"name": "a"},
 "mark": {"type": "line", "strokeWidth": 2.1, "opacity": 0.5, "clip": true},
 "encoding": {
  "x": {"field": "x", "type": "quantitative", "scale": {"domain": [0, 1000], "nice": false}, "axis": {"values": [0, 200, 400, 600, 800, 1000]}},
  "y": {"field": "y", "type": "quantitative", "scale": {"domain": [1.45, 123.55], "nice": false, "zero": false}, "axis": {"values": [20, 40, 60, 80, 100, 120]}},
  "color": {"datum": "A2C", "scale": {"range": ["#1f77b4"]}, "legend": {"orient": "top-right"}}}},
{"title": {"text": "history-0010 v_value"}, "width": 322, "height": 332, "data": {"name": "b"},
 "mark": {"type": "line", "strokeWidth": 2.1, "opacity": 0.5, "clip": true},
 "encoding": {
  "x": {"field": "x", "type": "quantitative", "scale": {"domain": [0, 1000], "nice": false}, "axis": {"values": [0, 200, 400, 600, 800, 1000]}},
  "y": {"field": "y", "type": "quantitative", "scale": {"domain": [-6.27, 13.16], "nice": false, "zero": false}, "axis": {"values": [-5, -2.5, 0, 2.5, 5, 7.5, 10, 12.5], "format": ".1f"}},
  "color": {"datum": "A2C", "scale": {"range": ["#1f77b4"]}, "legend": {"orient": "top-right"}}}},
{"title": {"text": "history-0010 loss"}, "width": 322, "height": 332, "data": {"name": "c"},
 "mark": {"type": "line", "strokeWidth": 2.1, "opacity": 0.5, "clip": true},
 "encoding": {
  "x": {"field": "x", "type": "quantitative", "scale": {"domain": [0, 1000], "nice": false}, "axis": {"values": [0, 200, 400, 600, 800, 1000]}},
  "y": {"field": "y", "type": "quantitative", "scale": {"domain": [-2.5, 54.15], "nice": false, "zero": false}, "axis": {"values": [0, 10, 20, 30, 40, 50]}},
  "color": {"datum": "A2C", "scale": {"range": ["#1f77b4"]}, "legend": {"orient": "top-right"}}}},
{"title": {"text": "history-0011 step"}, "width": 322, "height": 332, "data": {"name": "d"},
 "mark": {"type": "line", "strokeWidth": 2.1, "opacity": 0.5, "clip": true},
 "encoding": {
  "x": {"field": "x", "type": "quantitative", "scale": {"domain": [0, 1000], "nice": false}, "axis": {"values": [0, 200, 400, 600, 800, 1000]}},
  "y": {"field": "y", "type": "quantitative", "scale": {"domain": [-17, 523], "nice": false, "zero": false}, "axis": {"values": [0, 100, 200, 300, 400, 500]}},
  "color": {"datum": "A2C", "scale": {"range": ["#1f77b4"]}, "legend": {"orient": "top-left"}}}},
{"title": {"text": "history-0011 v_value"}, "width": 322, "height": 332, "data": {"name": "e"},
 "mark": {"type": "line", "strokeWidth": 2.1, "opacity": 0.5, "clip": true},
 "encoding": {
  "x": {"field": "x", "type": "quantitative", "scale": {"domain": [0, 1000], "nice": false}, "axis": {"values": [0, 200, 400, 600, 800, 1000]}},
  "y": {"field": "y", "type": "quantitative", "scale": {"domain": [-7.05, 22.7], "nice": false, "zero": false}, "axis": {"values": [-5, 0, 5, 10, 15, 20]}},
  "color": {"datum": "A2C", "scale": {"range": ["#1f77b4"]}, "legend": {"orient": "bottom-right"}}}},
{"title": {"text": "history-0011 loss"}, "width": 322, "height": 332, "data": {"name": "f"},
 "mark": {"type": "line", "strokeWidth": 2.1, "opacity": 0.5, "clip": true},
 "encoding": {
  "x": {"field": "x", "type": "quantitative", "scale": {"domain": [0, 1000], "nice": false}, "axis": {"values": [0, 200, 400, 600, 800, 1000]}},
  "y": {"field": "y", "type": "quantitative", "scale": {"domain": [-2.7, 58], "nice": false, "zero": false}, "axis": {"values": [0, 10, 20, 30, 40, 50]}},
  "color": {"datum": "A2C", "scale": {"range": ["#1f77b4"]}, "legend": {"orient": "top-right"}}}}
]
}
